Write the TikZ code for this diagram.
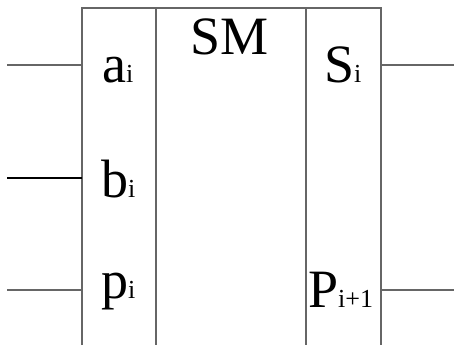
\documentclass[tikz,border=0pt]{standalone}
\usepackage{fontspec}
\setmainfont{Liberation Serif}
\newfontfamily\tms{Liberation Serif}
\newcommand{\sig}[2]{{\tms\fontsize{54}{60}\selectfont #1}{\tms\fontsize{26}{30}\selectfont #2}}
\tikzset{
  frame/.style={draw=gray!80!black, line width=1.1pt},
  wire/.style={draw=gray!80!black, line width=1.1pt},
  lbl/.style={anchor=base west, inner sep=0pt, font=\tms}
}
\begin{document}
\begin{tikzpicture}[x=1pt,y=-1pt]
\useasboundingbox (0,0) rectangle (454,345);
% block outline, open at the bottom
\draw[frame] (82,345) -- (82,8) -- (381,8) -- (381,345);
\draw[frame] (156,8) -- (156,345);
\draw[frame] (306,8) -- (306,345);
% labels
\node[lbl] (sm) at (190,55) {\fontsize{54}{60}\selectfont SM};
\node[lbl] (a) at (102,82) {\sig{a}{i}};
\node[lbl] (b) at (101,197) {\sig{b}{i}};
\node[lbl] (p) at (101,298) {\sig{p}{i}};
\node[lbl] (s) at (324,82) {\sig{S}{i}};
\node[lbl] (pn) at (308,307) {\sig{P}{i+1}};
% wire ends
\coordinate (ain) at (7,65);
\coordinate (bin) at (7,178);
\coordinate (pin) at (7,290);
\coordinate (aport) at (82,65);
\coordinate (bport) at (82,178);
\coordinate (pport) at (82,290);
\coordinate (sport) at (381,65);
\coordinate (pnport) at (381,290);
\coordinate (sout) at (454,65);
\coordinate (pnout) at (454,290);
\draw[wire] (ain) -- (aport);
\draw[wire, draw=black] (bin) -- (bport);
\draw[wire] (pin) -- (pport);
\draw[wire] (sport) -- (sout);
\draw[wire] (pnport) -- (pnout);
\end{tikzpicture}
\end{document}
